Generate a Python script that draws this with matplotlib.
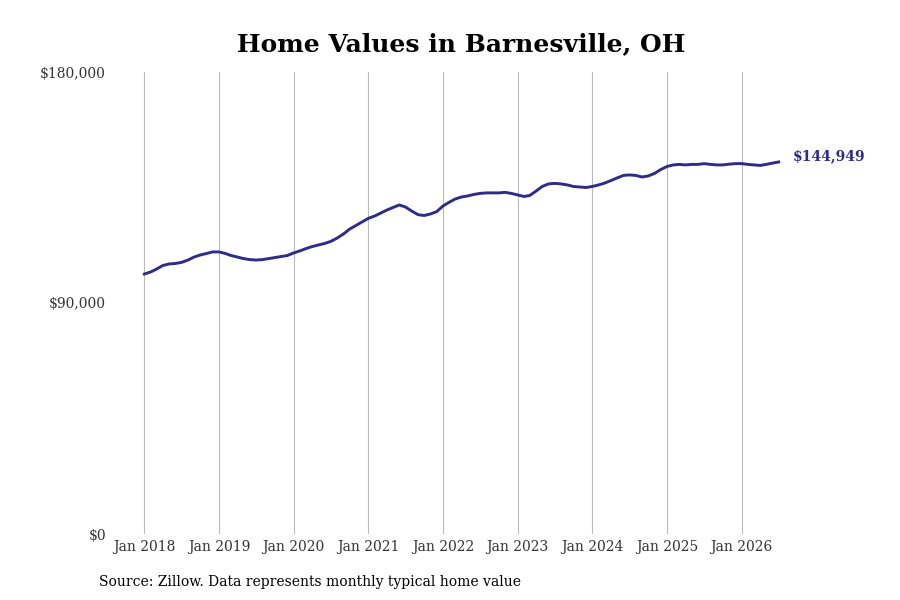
import matplotlib
matplotlib.use("Agg")
import matplotlib.pyplot as plt
import matplotlib.dates as mdates
import numpy as np
import pandas as pd

# monthly typical home value, Jan 2018 .. Jul 2026
values = [
    101300, 102100, 103200, 104600, 105200, 105400, 105800, 106700, 107900, 108700, 109300, 109900,  # 2018
    109900, 109300, 108500, 107900, 107300, 106900, 106750, 106900, 107300, 107700, 108100, 108500,  # 2019
    109500, 110300, 111200, 112000, 112600, 113200, 114000, 115300, 116900, 118800, 120200, 121600,  # 2020
    123000, 123900, 125000, 126200, 127200, 128200, 127400, 125800, 124400, 124100, 124700, 125600,  # 2021
    127800, 129300, 130500, 131300, 131700, 132300, 132700, 132900, 132900, 132900, 133100, 132700,  # 2022
    132100, 131500, 131900, 133600, 135400, 136400, 136600, 136400, 136000, 135400, 135200, 135000,  # 2023
    135400, 136000, 136700, 137700, 138700, 139700, 139900, 139700, 139100, 139500, 140500, 142000,  # 2024
    143200, 143800, 144000, 143800, 144000, 144000, 144300, 144000, 143800, 143800, 144100, 144300,  # 2025
    144300, 144000, 143800, 143600, 144000, 144500, 144949,                                          # 2026
]
dates = pd.date_range("2018-01-01", periods=len(values), freq="MS")

y_ticks = [0, 90000, 180000]
y_labels = ["$0", "$90,000", "$180,000"]
tick_years = list(range(2018, 2027))

line_color = "#2e2b8c"
serif = "DejaVu Serif"

fig = plt.figure(figsize=(9, 6), dpi=100)
ax = fig.add_axes([0.13, 0.11, 0.74, 0.77])

ax.plot(dates, values, color=line_color, linewidth=2.1, clip_on=False)

# last value label
ax.annotate("${:,}".format(values[-1]), xy=(dates[-1], values[-1]),
            xytext=(10, 4), textcoords="offset points", ha="left", va="center",
            fontsize=10, fontweight="bold", color=line_color, family=serif)

ax.set_ylim(0, 180000)
ax.set_yticks(y_ticks)
ax.set_yticklabels(y_labels)

ax.set_xlim(pd.Timestamp("2017-08-20"), pd.Timestamp("2026-07-22"))
ax.set_xticks([pd.Timestamp(f"{y}-01-01") for y in tick_years])
ax.xaxis.set_major_formatter(mdates.DateFormatter("Jan %Y"))

ax.grid(axis="x", color="#bbbbbb", linewidth=0.8)
ax.grid(axis="y", visible=False)
ax.set_axisbelow(True)
for s in ax.spines.values():
    s.set_visible(False)
ax.tick_params(length=0, labelsize=10, labelcolor="#333333")
ax.tick_params(axis="x", pad=4)
ax.tick_params(axis="y", pad=8)
for lbl in ax.get_xticklabels() + ax.get_yticklabels():
    lbl.set_family(serif)

fig.text(0.512, 0.926, "Home Values in Barnesville, OH", ha="center", va="center",
         fontsize=18, fontweight="bold", family=serif, color="black")
fig.text(0.11, 0.03, "Source: Zillow. Data represents monthly typical home value",
         ha="left", va="center", fontsize=10, family=serif, color="black")

fig.savefig("out.png", dpi=100, facecolor="white")
plt.close(fig)
